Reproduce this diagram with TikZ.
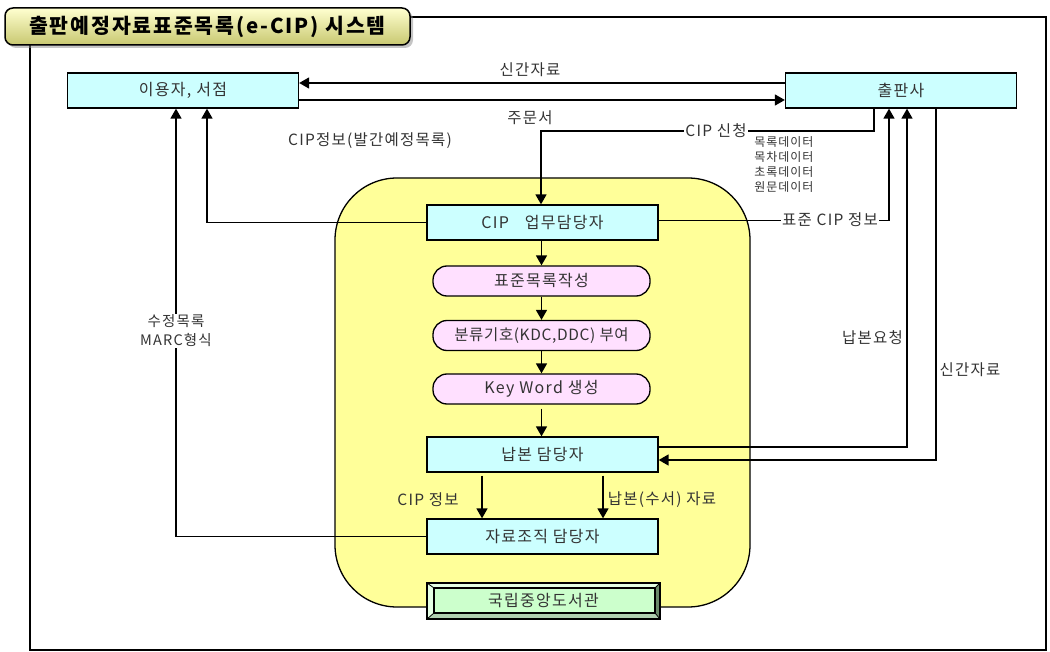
\documentclass[tikz,border=0pt]{standalone}
\usepackage{fontspec}
\setmainfont{Noto Sans CJK KR}[LetterSpace=8]
\usetikzlibrary{arrows.meta,shadows,calc}
\definecolor{boxcyan}{HTML}{CCFFFF}
\definecolor{pillpink}{HTML}{FFE0FF}
\definecolor{areayellow}{HTML}{FFFF99}
\definecolor{txt}{HTML}{333333}
\definecolor{libgreen}{HTML}{CCFFCC}
\definecolor{bevlight}{HTML}{E4FFE4}
\definecolor{bevmid}{HTML}{B0D0B0}
\definecolor{bevdark}{HTML}{6A8A6A}
\definecolor{titletop}{HTML}{FFFFD0}
\definecolor{titlebot}{HTML}{C8C870}
\tikzset{
  base/.style={font=\fontsize{16}{19}\selectfont, text=txt},
  cbox/.style={base, draw=black, line width=1.3pt, fill=boxcyan, minimum width=231pt, minimum height=35pt, inner sep=0pt},
  pill/.style={base, draw=black, line width=1.3pt, fill=pillpink, rounded corners=14pt, minimum width=217pt, minimum height=30pt, inner sep=0pt},
  conn/.style={line width=1.6pt, draw=black},
  arr/.style={conn, -{Triangle[length=10pt,width=11pt]}},
  lbl/.style={base, font=\fontsize{15.5}{19}\selectfont, inner sep=1pt},
  small/.style={font=\fontsize{12}{15}\selectfont, text=txt, inner sep=0pt, align=left}
}
\begin{document}
\begin{tikzpicture}[x=1pt,y=-1pt]
\useasboundingbox (0,0) rectangle (1050,652);

% frame
\draw[line width=1.5pt] (400,17) -- (1046,17) -- (1046,650) -- (30,650) -- (30,40);

% title
\node[draw=black, line width=1.5pt, rounded corners=8pt, top color=titletop, bottom color=titlebot,
      drop shadow={shadow xshift=3pt, shadow yshift=-3pt, fill=black!45},
      minimum width=405pt, minimum height=37pt, inner sep=0pt,
      font=\fontsize{20.5}{22}\selectfont\bfseries\addfontfeatures{LetterSpace=9}] (title) at (207.5,26.5) {출판예정자료표준목록(e-CIP) 시스템};

% yellow area
\filldraw[fill=areayellow, draw=black, line width=1.3pt, rounded corners=62pt] (335,178) rectangle (750,607);

% outer boxes
\node[cbox] (user) at (183,90.5) {이용자, 서점};
\node[cbox] (pub) at (901,90.5) {출판사};

% inner boxes
\node[cbox] (cip) at (542.5,222.5) {CIP\quad 업무담당자};
\node[pill] (std) at (541.5,281) {표준목록작성};
\node[pill, font=\fontsize{15.5}{19}\selectfont\addfontfeatures{LetterSpace=4}] (cls) at (541.5,335.5) {분류기호(KDC,DDC) 부여};
\node[pill] (key) at (541.5,389) {Key Word 생성};
\node[cbox] (dep) at (542.5,454.5) {납본 담당자};
\node[cbox] (org) at (542.5,536.5) {자료조직 담당자};

% library bevel box
\fill[bevlight] (427,583) -- (660,583) -- (655,588) -- (434,588) -- cycle;
\fill[bevlight] (427,583) -- (434,588) -- (434,613) -- (427,619) -- cycle;
\fill[bevdark] (660,583) -- (660,619) -- (655,613) -- (655,588) -- cycle;
\fill[bevmid] (427,619) -- (660,619) -- (655,613) -- (434,613) -- cycle;
\draw[line width=0.8pt] (427,583) -- (434,588) (660,583) -- (655,588) (427,619) -- (434,613) (660,619) -- (655,613);
\filldraw[fill=libgreen, draw=black, line width=1.2pt] (434,588) rectangle (655,613);
\node[base, draw=black, line width=1.5pt, minimum width=233pt, minimum height=36pt, inner sep=0pt] (lib) at (543.5,601) {국립중앙도서관};

% user <-> publisher
\draw[arr] ([yshift=7.5pt]pub.west) -- ([yshift=7.5pt]user.east);
\draw[arr] ([yshift=-9.5pt]user.east) -- ([yshift=-9.5pt]pub.west);
\node[lbl] (l1) at (530,70) {신간자료};
\node[lbl] (l2) at (530,118) {주문서};

% CIP application
\draw[arr] ([xshift=-27pt]pub.south) |- (541,131) -- (cip.north -| 541,0);
\node[lbl, fill=white] (l3) at (716,131) {CIP 신청};
\node[small] (l4) at (784,165) {목록데이터\\목차데이터\\초록데이터\\원문데이터};

% standard CIP info back to publisher
\draw[arr] ([yshift=2pt]cip.east) -| ([xshift=-12pt]pub.south);
\node[lbl, fill=white] (l5) at (830,220) {표준 CIP 정보};

% deposit request
\draw[arr] ([yshift=7.5pt]dep.east) -| ([xshift=6pt]pub.south);
\node[lbl, anchor=east] (l6) at (904,338) {납본요청};

% new materials to deposit
\draw[arr] ([xshift=35pt]pub.south) |- ([yshift=-5.5pt]dep.east);
\node[lbl] (l7) at (970,370) {신간자료};

% CIP info to users
\draw[arr] (cip.west) -| ([xshift=24pt]user.south);
\node[lbl] (l8) at (370,141) {CIP정보(발간예정목록)};

% revised catalog to users
\draw[arr] (org.west) -| ([xshift=-7pt]user.south);
\node[lbl, fill=white, align=center, font=\fontsize{14.5}{19}\selectfont] (l9) at (176,331) {수정목록\\MARC형식};

% central flow
\draw[arr] (cip.south -| std.north) -- (std.north);
\draw[arr] (std.south) -- (cls.north);
\draw[arr] (cls.south) -- (key.north);
\draw[arr] ([yshift=-4pt]key.south) -- (dep.north -| key.south);
\draw[arr] ([xshift=-60.5pt,yshift=-3pt]dep.south) -- ([xshift=-60.5pt]org.north);
\draw[arr] ([xshift=60.5pt,yshift=-3pt]dep.south) -- ([xshift=60.5pt]org.north);
\node[lbl] (l10) at (428,500) {CIP 정보};
\node[lbl] (l11) at (662,500) {납본(수서) 자료};
\end{tikzpicture}
\end{document}
